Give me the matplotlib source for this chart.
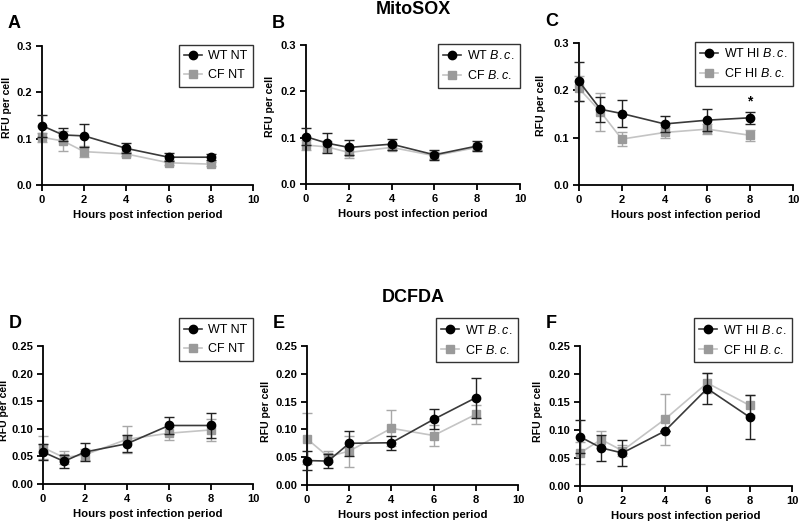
import numpy as np
import matplotlib.pyplot as plt
from matplotlib.lines import Line2D

plt.rcParams['font.family'] = ['Liberation Sans', 'DejaVu Sans']
plt.rcParams['mathtext.fontset'] = 'custom'
plt.rcParams['mathtext.it'] = 'Liberation Sans:italic'
plt.rcParams['mathtext.rm'] = 'Liberation Sans'

hours = [0, 1, 2, 4, 6, 8]

# MitoSOX
a_wt = [0.128, 0.108, 0.106, 0.079, 0.060, 0.060]
a_wt_err = [0.024, 0.014, 0.025, 0.011, 0.009, 0.006]
a_cf = [0.103, 0.095, 0.072, 0.067, 0.048, 0.045]
a_cf_err = [0.010, 0.021, 0.012, 0.005, 0.005, 0.005]

b_wt = [0.102, 0.088, 0.079, 0.086, 0.063, 0.082]
b_wt_err = [0.018, 0.022, 0.017, 0.012, 0.011, 0.010]
b_cf = [0.084, 0.080, 0.068, 0.079, 0.061, 0.079]
b_cf_err = [0.010, 0.012, 0.012, 0.006, 0.008, 0.006]

c_wt = [0.219, 0.160, 0.151, 0.129, 0.137, 0.142]
c_wt_err = [0.041, 0.026, 0.028, 0.016, 0.023, 0.013]
c_cf = [0.204, 0.155, 0.097, 0.111, 0.118, 0.105]
c_cf_err = [0.026, 0.040, 0.014, 0.012, 0.011, 0.012]

# DCFDA
d_wt = [0.058, 0.041, 0.058, 0.073, 0.106, 0.106]
d_wt_err = [0.015, 0.012, 0.016, 0.015, 0.016, 0.023]
d_cf = [0.066, 0.048, 0.053, 0.081, 0.092, 0.098]
d_cf_err = [0.021, 0.012, 0.010, 0.024, 0.012, 0.020]

e_wt = [0.044, 0.043, 0.075, 0.076, 0.118, 0.157]
e_wt_err = [0.017, 0.012, 0.022, 0.013, 0.018, 0.036]
e_cf = [0.083, 0.051, 0.061, 0.102, 0.089, 0.127]
e_cf_err = [0.046, 0.010, 0.028, 0.032, 0.019, 0.017]

f_wt = [0.088, 0.068, 0.059, 0.098, 0.174, 0.123]
f_wt_err = [0.029, 0.023, 0.024, 0.000, 0.028, 0.039]
f_cf = [0.059, 0.083, 0.063, 0.119, 0.184, 0.144]
f_cf_err = [0.020, 0.016, 0.010, 0.045, 0.018, 0.018]

mito_ticks = [0, 0.1, 0.2, 0.3]
dcf_ticks = [0, 0.05, 0.1, 0.15, 0.2, 0.25]

panels = [
    ('A', a_wt, a_wt_err, a_cf, a_cf_err, 'WT NT', 'CF NT', 0.3, mito_ticks, '{:.1f}', [42, 253, 46, 185], -30),
    ('B', b_wt, b_wt_err, b_cf, b_cf_err, 'WT $\\it{B.c.}$', 'CF $\\it{B.c.}$', 0.3, mito_ticks, '{:.1f}', [306, 520, 45, 184], -31),
    ('C', c_wt, c_wt_err, c_cf, c_cf_err, 'WT HI $\\it{B.c.}$', 'CF HI $\\it{B.c.}$', 0.3, mito_ticks, '{:.1f}', [579, 793, 43, 185], -33),
    ('D', d_wt, d_wt_err, d_cf, d_cf_err, 'WT NT', 'CF NT', 0.25, dcf_ticks, '{:.2f}', [43, 253, 346, 484], -34),
    ('E', e_wt, e_wt_err, e_cf, e_cf_err, 'WT $\\it{B.c.}$', 'CF $\\it{B.c.}$', 0.25, dcf_ticks, '{:.2f}', [307, 518, 346, 485], -36),
    ('F', f_wt, f_wt_err, f_cf, f_cf_err, 'WT HI $\\it{B.c.}$', 'CF HI $\\it{B.c.}$', 0.25, dcf_ticks, '{:.2f}', [580, 792, 346, 486], -37),
]

W, H = 800, 523
fig = plt.figure(figsize=(8, 5.23), dpi=100)

wt_style = dict(color='#3a3a3a', lw=1.2, marker='o', ms=6, mfc='black', mec='black')
cf_style = dict(color='#c4c4c4', lw=1.2, marker='s', ms=5.5, mfc='#9a9a9a', mec='#9a9a9a')

for letter, wt, wte, cf, cfe, lwt, lcf, ymax, yt, fmt, (l, r, t, b), ylab_dx in panels:
    ax = fig.add_axes([l / W, 1 - b / H, (r - l) / W, (b - t) / H])
    ax.errorbar(hours, cf, yerr=cfe, ecolor='#a8a8a8', elinewidth=1.0,
                capsize=3.5, capthick=1.0, clip_on=False, zorder=2, **cf_style)
    ax.errorbar(hours, wt, yerr=wte, ecolor='#222222', elinewidth=1.0,
                capsize=3.5, capthick=1.0, clip_on=False, zorder=3, **wt_style)
    ax.set_xlim(0, 10)
    ax.set_ylim(0, ymax)
    ax.set_xticks([0, 2, 4, 6, 8, 10])
    ax.set_yticks(yt)
    ax.set_yticklabels([fmt.format(v) for v in yt])
    for s in ['top', 'right']:
        ax.spines[s].set_visible(False)
    for s in ['left', 'bottom']:
        ax.spines[s].set_linewidth(1.3)
    ax.tick_params(width=1.3, length=4, labelsize=8, pad=3)
    for lab in ax.get_xticklabels() + ax.get_yticklabels():
        lab.set_fontweight('bold')
    ax.set_xlabel('Hours post infection period', fontsize=8.2, fontweight='bold', labelpad=4)
    ax.set_ylabel('RFU per cell', fontsize=7.6, fontweight='bold')
    ax.yaxis.set_label_coords(ylab_dx / (r - l), 0.56 if letter in 'ABC' else 0.53)
    handles = [Line2D([], [], **wt_style), Line2D([], [], **cf_style)]
    anchor = (1.0, 1.01) if letter in 'ABC' else (1.0, 1.2)
    leg = ax.legend(handles, [lwt, lcf], loc='upper right', bbox_to_anchor=anchor,
                    fontsize=9, frameon=True, fancybox=False, edgecolor='black',
                    handlelength=1.4, borderpad=0.45, labelspacing=0.55, handletextpad=0.5,
                    borderaxespad=0)
    leg.get_frame().set_linewidth(1.0)
    fig.text((l - 34) / W, 1 - (t - 22) / H, letter, fontsize=13, fontweight='bold',
             ha='left', va='center')
    if letter == 'C':
        ax.text(8, 0.176, '*', ha='center', va='center', fontsize=10, fontweight='bold')

fig.text(413 / W, 1 - 9 / H, 'MitoSOX', fontsize=13, fontweight='bold', ha='center', va='center')
fig.text(413 / W, 1 - 297 / H, 'DCFDA', fontsize=13, fontweight='bold', ha='center', va='center')

fig.savefig('out.png', dpi=100, facecolor='white')
